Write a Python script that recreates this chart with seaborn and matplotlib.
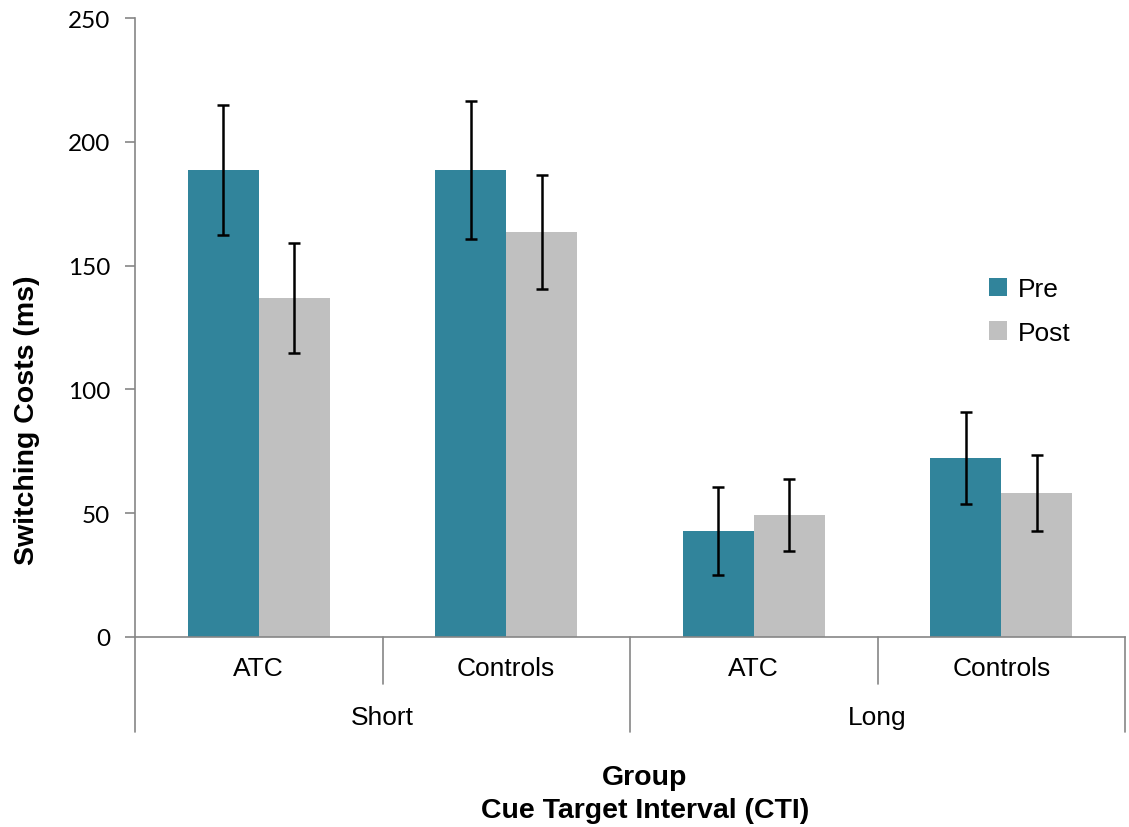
import matplotlib
matplotlib.use("Agg")
import matplotlib.pyplot as plt
import matplotlib.transforms as mtransforms
from matplotlib.patches import Patch
import seaborn as sns
import pandas as pd

# ---- data ----
groups = ["ATC", "Controls", "ATC", "Controls"]
intervals = ["Short", "Short", "Long", "Long"]
phases = ["Pre", "Post"]
pre_means = [188.6, 188.6, 42.8, 72.3]
post_means = [136.9, 163.6, 49.3, 58.2]
pre_err = [26.4, 27.7, 17.6, 18.6]
post_err = [22.2, 23.0, 14.6, 15.3]
yticks = [0, 50, 100, 150, 200, 250]

colors = {"Pre": "#31849B", "Post": "#C0C0C0"}
axis_gray = "#868686"

sns.set_theme(style="white")
plt.rcParams["font.family"] = ["Liberation Sans", "DejaVu Sans"]
plt.rcParams["text.color"] = "black"
plt.rcParams["ytick.color"] = "black"
plt.rcParams["xtick.color"] = "black"
plt.rcParams["axes.labelcolor"] = "black"

cat_keys = [f"{i}|{g}" for i, g in zip(intervals, groups)]
rows = []
for k, m in zip(cat_keys, pre_means):
    rows.append({"cat": k, "phase": "Pre", "value": m})
for k, m in zip(cat_keys, post_means):
    rows.append({"cat": k, "phase": "Post", "value": m})
df = pd.DataFrame(rows)

fig = plt.figure(figsize=(11.29, 8.28), dpi=100)
W, H = 1129, 828
left, right, top, bottom = 135, 1125, 19, 638
ax = fig.add_axes([left / W, 1 - bottom / H, (right - left) / W, (bottom - top) / H])

sns.barplot(data=df, x="cat", y="value", hue="phase", order=cat_keys,
            hue_order=phases, palette=colors, width=0.574, gap=0,
            errorbar=None, ax=ax, legend=False, saturation=1,
            edgecolor="none")

# error bars at bar centers
errs = {"Pre": pre_err, "Post": post_err}
for container, ph in zip(ax.containers, phases):
    xs = [p.get_x() + p.get_width() / 2 for p in container.patches]
    ys = [p.get_height() for p in container.patches]
    ax.errorbar(xs, ys, yerr=errs[ph], fmt="none", ecolor="black",
                elinewidth=1.8, capsize=4.5, capthick=1.8, zorder=5)

ax.set_xlim(-0.5, len(cat_keys) - 0.5)
ax.set_ylim(0, 250)
ax.set_yticks(yticks)
ax.set_yticklabels([str(t) for t in yticks], family=["Lato", "DejaVu Sans"],
                   fontsize=17.5, color="black")
ax.tick_params(axis="y", which="major", left=True, length=7, width=1.2,
               color=axis_gray, pad=11, labelcolor="black")
ax.set_xticks([])
ax.set_xlabel("")
ax.set_ylabel("")
for s in ["top", "right"]:
    ax.spines[s].set_visible(False)
for s in ["left", "bottom"]:
    ax.spines[s].set_color(axis_gray)
    ax.spines[s].set_linewidth(1.2)

# multi-level category axis
trans = mtransforms.blended_transform_factory(ax.transData, ax.transAxes)
ah = bottom - top
def yfrac(py):
    return -(py - bottom) / ah

inner_low = yfrac(685)
outer_low = yfrac(733)
for xb in [0.5, 2.5]:
    ax.plot([xb, xb], [0, inner_low], transform=trans, color=axis_gray,
            lw=1.2, clip_on=False)
for xb in [-0.5, 1.5, 3.5]:
    ax.plot([xb, xb], [0, outer_low], transform=trans, color=axis_gray,
            lw=1.2, clip_on=False)

for i, g in enumerate(groups):
    ax.text(i, yfrac(669), g, transform=trans, ha="center", va="center",
            fontsize=19, color="black")
for xc, lab in [(0.5, "Short"), (2.5, "Long")]:
    ax.text(xc, yfrac(718), lab, transform=trans, ha="center", va="center",
            fontsize=19, color="black")

# titles
fig.text(645 / W, 1 - 778 / H, "Group", ha="center", va="center",
         fontsize=20.5, fontweight="bold", color="black")
fig.text(645 / W, 1 - 811 / H, "Cue Target Interval (CTI)", ha="center",
         va="center", fontsize=20.5, fontweight="bold", color="black")
fig.text(27 / W, 1 - 420 / H, "Switching Costs (ms)", ha="center",
         va="center", rotation=90, fontsize=20.5, fontweight="bold",
         color="black")

# legend
handles = [Patch(facecolor=colors[p], edgecolor="none", label=p) for p in phases]
leg = fig.legend(handles=handles, loc="center left",
                 bbox_to_anchor=(978 / W, 1 - 312 / H), frameon=False,
                 fontsize=19, handlelength=0.7, handleheight=0.7,
                 handletextpad=0.4, labelspacing=0.75, borderaxespad=0)
for t in leg.get_texts():
    t.set_color("black")

fig.savefig("out.png", dpi=100)
